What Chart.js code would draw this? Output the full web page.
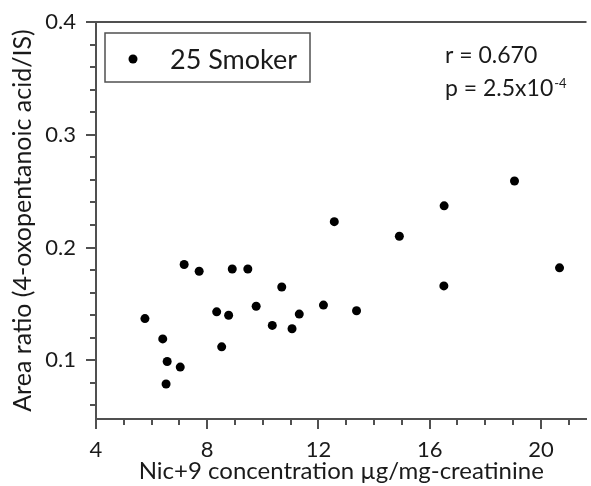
<!DOCTYPE html>
<html>
<head>
<meta charset="utf-8">
<script src="https://cdn.jsdelivr.net/npm/chart.js@4.4.1/dist/chart.umd.min.js"></script>
<style>
  html, body { margin: 0; padding: 0; background: #ffffff; }
  #wrap { width: 591px; height: 486px; }
</style>
</head>
<body>
<div id="wrap"><canvas id="scatter"></canvas></div>
<script>
// Nic+9 concentration (µg/mg-creatinine) vs area ratio, one point per smoker
const nicConc = [
  5.76, 6.40, 6.52, 6.56, 7.03, 7.17, 7.71, 8.34, 8.52, 8.77,
  8.90, 9.46, 9.76, 10.34, 10.68, 11.05, 11.31, 12.18, 12.57, 13.37,
  14.91, 16.51, 16.52, 19.05, 20.67
];
const areaRatio = [
  0.137, 0.119, 0.079, 0.099, 0.094, 0.185, 0.179, 0.143, 0.112, 0.140,
  0.181, 0.181, 0.148, 0.131, 0.165, 0.128, 0.141, 0.149, 0.223, 0.144,
  0.210, 0.166, 0.237, 0.259, 0.182
];
const seriesLabel = "25 Smoker";
const xTicks = [4, 8, 12, 16, 20];
const yTicks = [0.1, 0.2, 0.3, 0.4];
const statR = "r = 0.670";
const statP = "p = 2.5x10";
const statPExp = "-4";

const FONT = "Lato";
const TEXT = "#1a1a1a";
const AXIS = "#505050";

// frame top line, minor/major ticks, inset legend and the r / p note
const decorations = {
  id: "decorations",
  afterDraw(chart) {
    const { ctx, chartArea: area, scales: { x, y } } = chart;
    ctx.save();
    ctx.strokeStyle = AXIS;
    ctx.lineWidth = 2;

    ctx.beginPath();
    ctx.moveTo(area.left - 1, area.top);
    ctx.lineTo(area.right, area.top);
    ctx.stroke();

    ctx.beginPath();
    for (let v = Math.ceil(x.min); v <= x.max; v++) {
      const px = Math.round(x.getPixelForValue(v));
      const len = xTicks.includes(v) ? 10 : 6;
      ctx.moveTo(px, area.bottom);
      ctx.lineTo(px, area.bottom + len);
    }
    for (let k = 3; k <= 20; k++) {
      const py = Math.round(y.getPixelForValue(k * 0.02));
      const len = k % 5 === 0 ? 10 : 6;
      ctx.moveTo(area.left, py);
      ctx.lineTo(area.left - len, py);
    }
    ctx.stroke();

    // legend box
    const bx = area.left + 9, by = area.top + 11;
    ctx.lineWidth = 1.5;
    ctx.strokeRect(bx, by, 205, 49);
    ctx.fillStyle = "#000";
    ctx.beginPath();
    ctx.arc(bx + 28, by + 26, 4.5, 0, Math.PI * 2);
    ctx.fill();
    ctx.fillStyle = TEXT;
    ctx.font = "27px " + FONT;
    ctx.textBaseline = "alphabetic";
    ctx.fillText(chart.data.datasets[0].label, bx + 65, by + 36);

    // correlation note
    ctx.font = "23px " + FONT;
    ctx.fillText(statR, area.left + 349, area.top + 41);
    ctx.fillText(statP, area.left + 349, area.top + 74);
    const w = ctx.measureText(statP).width;
    ctx.font = "13px " + FONT;
    ctx.fillText(statPExp, area.left + 350 + w, area.top + 66);
    ctx.restore();
  }
};

new Chart(document.getElementById("scatter"), {
  type: "scatter",
  data: {
    datasets: [{
      label: seriesLabel,
      data: nicConc.map((v, i) => ({ x: v, y: areaRatio[i] })),
      backgroundColor: "#000000",
      borderWidth: 0,
      pointRadius: 4.5,
      pointHoverRadius: 4.5
    }]
  },
  options: {
    responsive: true,
    maintainAspectRatio: false,
    animation: false,
    layout: { padding: { top: 22, right: 0, left: 0, bottom: 0 } },
    plugins: {
      legend: { display: false },
      tooltip: { enabled: false }
    },
    scales: {
      x: {
        type: "linear",
        position: "bottom",
        min: 4,
        max: 21.64,
        afterBuildTicks: s => { s.ticks = xTicks.map(v => ({ value: v })); },
        afterFit: s => { s.height = 67; s.paddingLeft = 0; s.paddingRight = 0; },
        grid: { display: false, drawTicks: false },
        border: { display: true, color: AXIS, width: 2 },
        ticks: {
          color: TEXT,
          font: { family: FONT, size: 22 },
          padding: 18,
          maxRotation: 0,
          autoSkip: false
        },
        title: {
          display: true,
          text: "Nic+9 concentration µg/mg-creatinine",
          color: TEXT,
          font: { family: FONT, size: 24 },
          padding: { top: 0, bottom: 0 }
        }
      },
      y: {
        type: "linear",
        min: 0.048,
        max: 0.4,
        afterBuildTicks: s => { s.ticks = yTicks.map(v => ({ value: v })); },
        afterFit: s => { s.width = 96; s.paddingTop = 0; s.paddingBottom = 0; },
        grid: { display: false, drawTicks: false },
        border: { display: true, color: AXIS, width: 2 },
        ticks: {
          color: TEXT,
          font: { family: FONT, size: 22 },
          padding: 20,
          callback: v => v.toFixed(1)
        },
        title: {
          display: true,
          text: "Area ratio (4-oxopentanoic acid/IS)",
          color: TEXT,
          font: { family: FONT, size: 25 },
          padding: { top: 8, bottom: 0 }
        }
      }
    }
  },
  plugins: [decorations]
});
</script>
</body>
</html>
